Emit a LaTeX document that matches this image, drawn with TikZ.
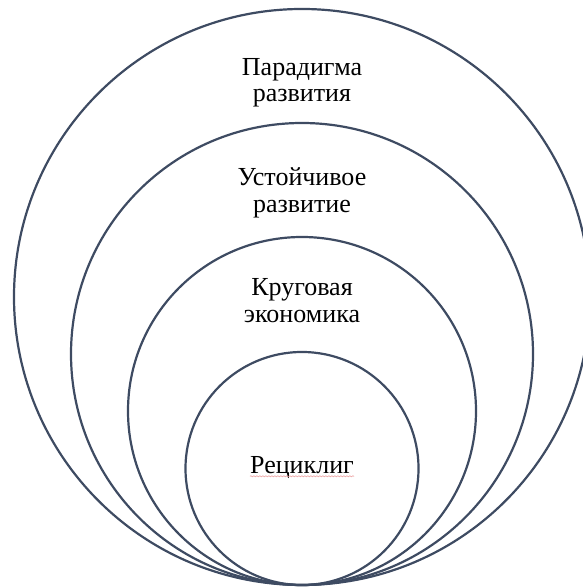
\documentclass[tikz,border=0pt]{standalone}
\usepackage{fontspec}
\setmainfont{Liberation Serif}
\usetikzlibrary{decorations.pathmorphing}
\definecolor{ringcol}{HTML}{3E4B62}
\definecolor{spellred}{HTML}{E89090}
\tikzset{
  ring/.style={draw=ringcol, line width=2.2pt},
  label/.style={anchor=base, inner sep=0pt, font=\fontsize{26}{27}\selectfont},
}
\begin{document}
\begin{tikzpicture}[x=1pt,y=1pt]
\useasboundingbox (0,0) rectangle (582,588);
% nested circles, all touching at the bottom
\node[ring, circle, minimum size=576pt, inner sep=0pt] (paradigm) at (302,291) {};
\node[ring, circle, minimum size=462pt, inner sep=0pt] (sustain) at (302,234) {};
\node[ring, circle, minimum size=348pt, inner sep=0pt] (circular) at (302,177) {};
\node[ring, circle, minimum size=233pt, inner sep=0pt] (recycle) at (302,119.5) {};
% labels
\node[label] (pA) at (302,512.6) {Парадигма};
\node[label] (pB) at (302,486) {развития};
\node[label] (sA) at (302,402.4) {Устойчивое};
\node[label] (sB) at (302,375.7) {развитие};
\node[label] (cA) at (302,292.2) {Круговая};
\node[label] (cB) at (302,265.8) {экономика};
\node[label] (rA) at (302,114.7) {Рециклиг};
% spell-check squiggle under the last word
\draw[spellred, line width=0.5pt, decorate, decoration={snake, amplitude=0.6pt, segment length=3pt}]
  ([yshift=-3pt]rA.base west) -- ([yshift=-3pt]rA.base east);
\end{tikzpicture}
\end{document}
